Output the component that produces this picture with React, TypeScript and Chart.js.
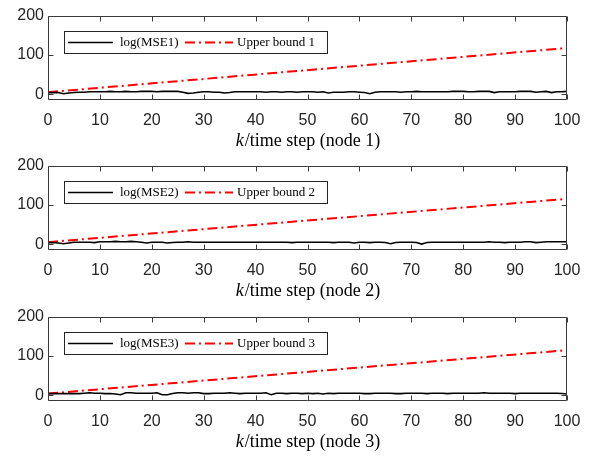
import React, { useEffect, useRef } from "react";
import { Chart, registerables } from "chart.js";

Chart.register(...registerables);

// ---- data ----
const mse1 = [
  4, 4, 4, 1, 3, 4, 5, 5, 6, 6,
  6, 6, 7, 6, 6, 7, 6, 6, 7, 7,
  7, 6, 7, 7, 7, 7, 5, 2, 3, 5,
  6, 6, 5, 5, 3, 4, 6, 6, 6, 6,
  6, 6, 5, 6, 6, 5, 6, 6, 5, 6,
  6, 6, 5, 6, 3, 5, 5, 5, 6, 6,
  5, 4, 1, 5, 6, 6, 6, 6, 5, 6,
  6, 7, 6, 6, 6, 6, 6, 6, 7, 7,
  7, 6, 6, 7, 7, 7, 4, 6, 6, 6,
  6, 7, 7, 7, 5, 6, 7, 4, 6, 6,
  7,
];
const mse2 = [
  4, 4, 3, 1, 3, 5, 5, 5, 5, 4,
  6, 6, 6, 7, 6, 6, 7, 6, 5, 3,
  5, 5, 5, 3, 4, 5, 5, 6, 5, 5,
  5, 5, 5, 5, 5, 5, 5, 5, 5, 5,
  5, 5, 5, 5, 5, 5, 5, 4, 5, 5,
  5, 5, 5, 5, 5, 4, 5, 5, 5, 3,
  5, 5, 4, 5, 5, 4, 1, 4, 5, 5,
  5, 4, 0, 4, 5, 5, 5, 5, 5, 5,
  5, 5, 5, 5, 5, 6, 5, 5, 4, 5,
  5, 5, 6, 6, 4, 5, 6, 6, 6, 6,
  6,
];
const mse3 = [
  4, 4, 4, 4, 4, 4, 4, 5, 6, 5,
  5, 4, 4, 3, 1, 6, 6, 5, 5, 5,
  5, 6, 1, 1, 4, 6, 6, 5, 6, 6,
  4, 4, 5, 5, 5, 6, 5, 4, 5, 5,
  5, 5, 6, 1, 5, 5, 4, 5, 5, 4,
  5, 4, 5, 3, 5, 4, 5, 5, 5, 5,
  5, 4, 4, 5, 5, 5, 5, 4, 4, 5,
  5, 5, 5, 4, 5, 5, 5, 4, 5, 5,
  5, 5, 5, 5, 6, 5, 5, 5, 5, 5,
  4, 5, 5, 5, 5, 5, 5, 5, 5, 4,
  3,
];
const boundK = [0, 100];
const bound1 = [5, 118];
const bound2 = [5, 116];
const bound3 = [4, 115];
const xTicks = [0, 10, 20, 30, 40, 50, 60, 70, 80, 90, 100];
const yTicks = [0, 100, 200];
const mseNames = ["log(MSE1)", "log(MSE2)", "log(MSE3)"];
const boundNames = ["Upper bound 1", "Upper bound 2", "Upper bound 3"];
const nodeLabels = ["/time step (node 1)", "/time step (node 2)", "/time step (node 3)"];

const AXIS = "#262626";
const RED_DASH = [10, 4, 2, 4];

const mseAll = [mse1, mse2, mse3];
const boundAll = [bound1, bound2, bound3];

const decorPlugin = {
  id: "decor",
  afterDraw(chart: any, _args: any, opts: any) {
    const { ctx, chartArea: a, scales } = chart;
    const i = opts.index as number;
    ctx.save();
    // frame
    ctx.strokeStyle = "#3a3a3a";
    ctx.lineWidth = 1;
    const L = Math.round(a.left) + 0.5;
    const R = Math.round(a.right) - 0.5;
    const T = Math.round(a.top) + 0.5;
    const B = Math.round(a.bottom) - 0.5;
    ctx.beginPath();
    ctx.rect(L, T, R - L, B - T);
    for (const t of xTicks) {
      const x = Math.round(scales.x.getPixelForValue(t)) + 0.5;
      ctx.moveTo(x, B);
      ctx.lineTo(x, B - 5);
      ctx.moveTo(x, T);
      ctx.lineTo(x, T + 5);
    }
    for (const t of yTicks) {
      const y = Math.round(scales.y.getPixelForValue(t)) + 0.5;
      ctx.moveTo(L, y);
      ctx.lineTo(L + 5, y);
      ctx.moveTo(R, y);
      ctx.lineTo(R - 5, y);
    }
    ctx.stroke();

    // legend
    const lx = a.left + 16;
    const ly = a.top + 15;
    const lw = 263;
    const lh = 22;
    ctx.fillStyle = "#ffffff";
    ctx.fillRect(lx, ly, lw, lh);
    ctx.strokeStyle = "#262626";
    ctx.strokeRect(Math.round(lx) + 0.5, Math.round(ly) + 0.5, lw, lh);
    const my = ly + lh / 2 + 0.5;
    ctx.strokeStyle = "#000000";
    ctx.lineWidth = 1.6;
    ctx.beginPath();
    ctx.moveTo(lx + 4, my);
    ctx.lineTo(lx + 49, my);
    ctx.stroke();
    ctx.strokeStyle = "#ff0000";
    ctx.lineWidth = 2;
    ctx.setLineDash(RED_DASH);
    ctx.beginPath();
    ctx.moveTo(lx + 121, my);
    ctx.lineTo(lx + 169, my);
    ctx.stroke();
    ctx.setLineDash([]);
    ctx.fillStyle = "#000000";
    ctx.font = "13px 'Liberation Serif'";
    ctx.textBaseline = "middle";
    ctx.textAlign = "left";
    ctx.fillText(mseNames[i], lx + 56, my);
    ctx.fillText(boundNames[i], lx + 173, my);

    // x axis title
    const cx = (a.left + a.right) / 2;
    const ty = a.bottom + 41;
    ctx.font = "italic 18px 'Liberation Serif'";
    const wk = ctx.measureText("k").width;
    ctx.font = "18px 'Liberation Serif'";
    const wr = ctx.measureText(nodeLabels[i]).width;
    const sx = cx - (wk + wr) / 2;
    ctx.fillStyle = "#000000";
    ctx.font = "italic 18px 'Liberation Serif'";
    ctx.fillText("k", sx, ty);
    ctx.font = "18px 'Liberation Serif'";
    ctx.fillText(nodeLabels[i], sx + wk + 1, ty);
    ctx.restore();
  },
};

function Panel({ index, top }: { index: number; top: number }) {
  const ref = useRef<HTMLCanvasElement>(null);
  useEffect(() => {
    const mse = mseAll[index];
    const bound = boundAll[index];
    const chart = new Chart(ref.current as HTMLCanvasElement, {
      type: "line",
      data: {
        datasets: [
          {
            label: mseNames[index],
            data: mse.map((v, k) => ({ x: k, y: v })),
            borderColor: "#000000",
            borderWidth: 1.6,
            pointRadius: 0,
            tension: 0,
          },
          {
            label: boundNames[index],
            data: boundK.map((k, j) => ({ x: k, y: bound[j] })),
            borderColor: "#ff0000",
            borderWidth: 2,
            borderDash: RED_DASH,
            pointRadius: 0,
            tension: 0,
          },
        ],
      },
      options: {
        responsive: false,
        animation: false,
        devicePixelRatio: 1,
        layout: { padding: { top: 16, right: 31, left: 0, bottom: 0 } },
        plugins: {
          legend: { display: false },
          tooltip: { enabled: false },
          decor: { index },
        } as any,
        scales: {
          x: {
            type: "linear",
            min: 0,
            max: 100,
            grid: { display: false, drawTicks: false },
            border: { display: false },
            ticks: {
              stepSize: 10,
              padding: 11,
              color: AXIS,
              font: { family: "'Liberation Sans'", size: 16 },
              maxRotation: 0,
            },
            afterFit: (s: any) => {
              s.height = 50;
            },
          },
          y: {
            min: -15,
            max: 200,
            grid: { display: false, drawTicks: false },
            border: { display: false },
            afterBuildTicks: (s: any) => {
              s.ticks = yTicks.map((v) => ({ value: v }));
            },
            ticks: {
              padding: 4,
              color: AXIS,
              font: { family: "'Liberation Sans'", size: 16 },
            },
            afterFit: (s: any) => {
              s.width = 48;
            },
          },
        },
      },
      plugins: [decorPlugin],
    });
    return () => chart.destroy();
  }, [index]);
  return (
    <canvas
      ref={ref}
      width={598}
      height={150}
      style={{ position: "absolute", left: 0, top, width: 598, height: 150, display: "block" }}
    />
  );
}

export default function App() {
  return (
    <div
      style={{
        position: "absolute",
        left: 0,
        top: 0,
        width: 598,
        height: 456,
        background: "#ffffff",
        overflow: "hidden",
      }}
    >
      <Panel index={0} top={0} />
      <Panel index={1} top={150} />
      <Panel index={2} top={301} />
    </div>
  );
}
